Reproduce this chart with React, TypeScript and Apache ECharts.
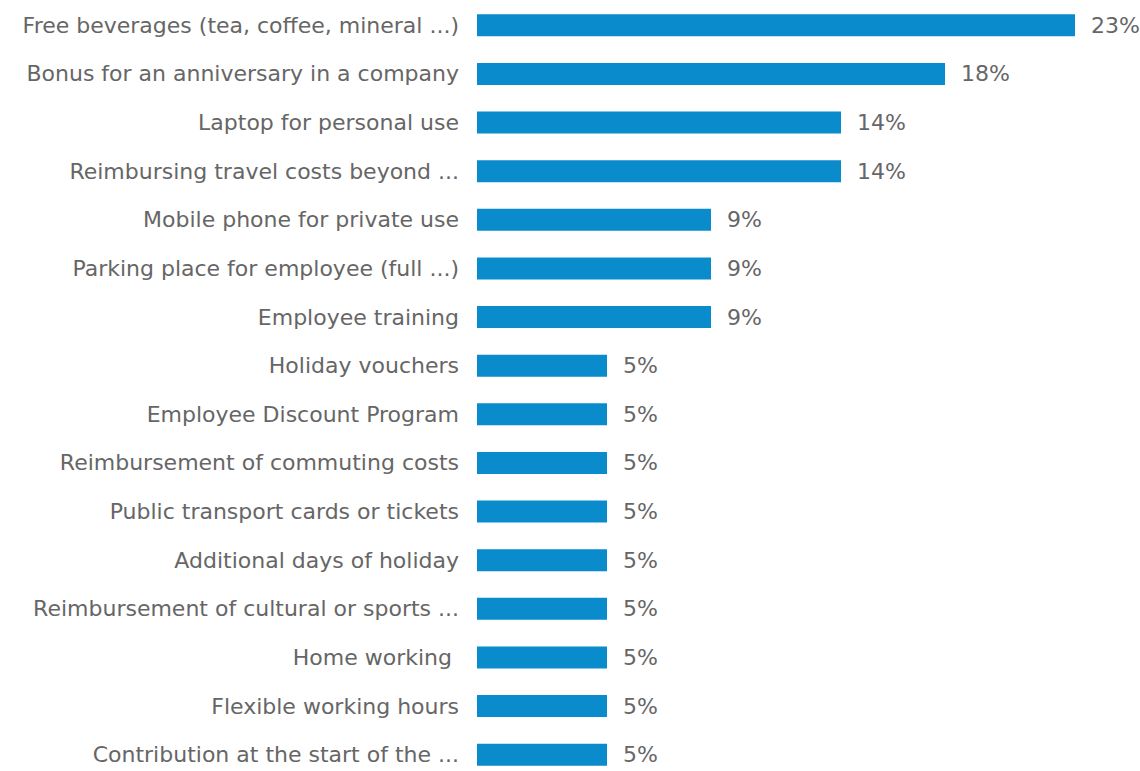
import React, { useEffect, useRef } from "react";
import * as echarts from "echarts";

const categories = [
  "Free beverages (tea, coffee, mineral ...)",
  "Bonus for an anniversary in a company",
  "Laptop for personal use",
  "Reimbursing travel costs beyond ...",
  "Mobile phone for private use",
  "Parking place for employee (full ...)",
  "Employee training",
  "Holiday vouchers",
  "Employee Discount Program",
  "Reimbursement of commuting costs",
  "Public transport cards or tickets",
  "Additional days of holiday",
  "Reimbursement of cultural or sports ...",
  "Home working ",
  "Flexible working hours",
  "Contribution at the start of the ...",
];

const values = [23, 18, 14, 14, 9, 9, 9, 5, 5, 5, 5, 5, 5, 5, 5, 5];

export default function App() {
  const ref = useRef<HTMLDivElement>(null);
  useEffect(() => {
    document.body.style.margin = "0";
    const chart = echarts.init(ref.current!, undefined, { renderer: "svg" });
    chart.setOption({
      animation: false,
      grid: { left: 477, top: 1, height: 778, right: 65, containLabel: false },
      xAxis: {
        type: "value",
        min: 0,
        max: 23,
        show: false,
      },
      yAxis: {
        type: "category",
        data: categories,
        inverse: true,
        axisLine: { show: false },
        axisTick: { show: false },
        splitLine: { show: false },
        axisLabel: {
          color: "#666666",
          fontFamily: "DejaVu Sans",
          fontSize: 22,
          lineHeight: 16,
          margin: 18,
        },
      },
      series: [
        {
          type: "bar",
          data: values,
          barWidth: 22,
          itemStyle: { color: "#0a8bcc" },
          label: {
            show: true,
            position: "right",
            distance: 16,
            formatter: "{c}%",
            color: "#666666",
            fontFamily: "DejaVu Sans",
            fontSize: 22,
            lineHeight: 16,
          },
        },
      ],
    });
    return () => chart.dispose();
  }, []);
  return <div ref={ref} style={{ width: 1140, height: 800 }} />;
}
